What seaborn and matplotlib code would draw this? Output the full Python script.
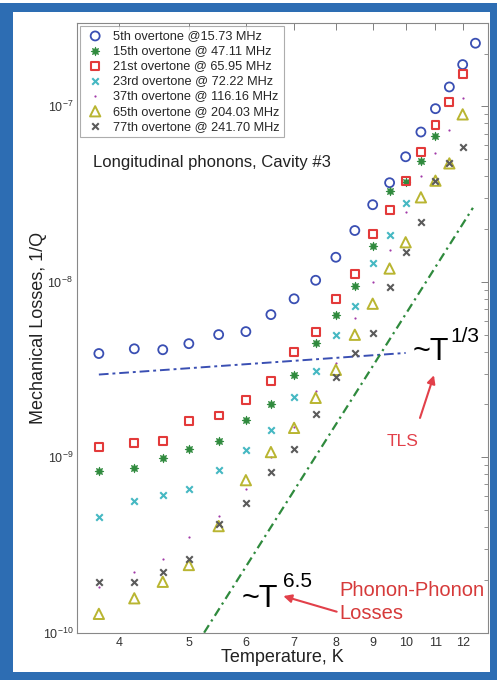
import matplotlib

matplotlib.use("Agg")
import matplotlib.pyplot as plt
from matplotlib.patches import Rectangle
from matplotlib.ticker import FixedLocator, LogFormatterSciNotation, NullLocator, NullFormatter
import pandas as pd
import seaborn as sns

sns.set_theme(style="white")
plt.rcParams["font.family"] = ["Liberation Sans", "DejaVu Sans"]
plt.rcParams["mathtext.fontset"] = "custom"
plt.rcParams["mathtext.rm"] = "Liberation Sans"

# measured temperatures (K)
temps = [3.75, 4.2, 4.6, 5.0, 5.5, 6.0, 6.5, 7.0, 7.5, 8.0, 8.5, 9.0, 9.5,
         10.0, 10.5, 11.0, 11.5, 12.0, 12.5]

# 1/Q for each overtone (series start at the lowest temperature)
q_5th = [3.9e-9, 4.15e-9, 4.1e-9, 4.44e-9, 5.0e-9, 5.2e-9, 6.5e-9, 8.0e-9,
         1.02e-8, 1.38e-8, 1.96e-8, 2.75e-8, 3.67e-8, 5.16e-8, 7.14e-8,
         9.7e-8, 1.29e-7, 1.73e-7, 2.29e-7]
q_15th = [8.36e-10, 8.7e-10, 9.87e-10, 1.12e-9, 1.23e-9, 1.62e-9, 2.02e-9,
          2.96e-9, 4.5e-9, 6.49e-9, 9.5e-9, 1.6e-8, 3.3e-8, 3.72e-8, 4.9e-8,
          6.8e-8]
q_21st = [1.14e-9, 1.21e-9, 1.24e-9, 1.60e-9, 1.73e-9, 2.11e-9, 2.71e-9,
          4.0e-9, 5.2e-9, 8.0e-9, 1.11e-8, 1.88e-8, 2.57e-8, 3.74e-8, 5.5e-8,
          7.8e-8, 1.06e-7, 1.53e-7]
q_23rd = [4.54e-10, 5.6e-10, 6.08e-10, 6.58e-10, 8.47e-10, 1.10e-9, 1.43e-9,
          2.2e-9, 3.1e-9, 5.0e-9, 7.3e-9, 1.28e-8, 1.85e-8, 2.82e-8]
q_37th = [1.81e-10, 2.22e-10, 2.62e-10, 3.52e-10, 4.63e-10, 6.55e-10, 1.0e-9,
          1.48e-9, 2.38e-9, 3.46e-9, 6.2e-9, 1.0e-8, 1.52e-8, 2.51e-8,
          4.03e-8, 5.4e-8, 7.3e-8, 1.12e-7]
q_65th = [1.28e-10, 1.57e-10, 1.95e-10, 2.43e-10, 4.05e-10, 7.4e-10, 1.07e-9,
          1.47e-9, 2.18e-9, 3.15e-9, 4.99e-9, 7.5e-9, 1.19e-8, 1.68e-8,
          3.03e-8, 3.77e-8, 4.73e-8, 9.0e-8]
q_77th = [1.94e-10, 1.94e-10, 2.21e-10, 2.63e-10, 4.14e-10, 5.45e-10, 8.25e-10,
          1.12e-9, 1.77e-9, 2.86e-9, 3.94e-9, 5.1e-9, 9.4e-9, 1.47e-8, 2.2e-8,
          3.77e-8, 4.73e-8, 5.9e-8]

labels = ["5th overtone @15.73 MHz", "15th overtone @ 47.11 MHz",
          "21st overtone @ 65.95 MHz", "23rd overtone @ 72.22 MHz",
          "37th overtone @ 116.16 MHz", "65th overtone @ 204.03 MHz",
          "77th overtone @ 241.70 MHz"]

# guide lines (end points of the power-law fits)
tls_T = [3.75, 10.0]
tls_Q = [2.96e-9, 3.93e-9]
pp_T = [5.25, 12.4]
pp_Q = [1.0e-10, 2.64e-8]

x_ticks = [4, 5, 6, 7, 8, 9, 10, 11, 12]
y_ticks = [1e-10, 1e-9, 1e-8, 1e-7]
y_minor = [k * d for d in (1e-10, 1e-9, 1e-8) for k in range(2, 10)] + [2e-7]

# marker styles: (marker, size, face, edge, linewidth)
STYLES = [
    ("o", 42, "none", "#3a4fb3", 1.3),
    ((8, 1, 0), 38, "#2f8a3d", "#2f8a3d", 0.6),
    ("s", 32, "none", "#e33a3a", 1.5),
    ("x", 22, None, "#45b8c2", 1.5),
    (".", 10, None, "#a23aa8", 0.0),
    ("^", 55, "none", "#b9b531", 1.4),
    ("x", 22, None, "#5a5a5a", 1.5),
]

series = [q_5th, q_15th, q_21st, q_23rd, q_37th, q_65th, q_77th]

fig = plt.figure(figsize=(4.97, 6.80), dpi=100)

# blue frame around the panel
fig.patches.append(Rectangle((0, 0), 1, 677 / 680, transform=fig.transFigure,
                             facecolor="#2d6db3", edgecolor="none", zorder=-10))
fig.patches.append(Rectangle((13 / 497, 8 / 680), 477 / 497, 660 / 680,
                             transform=fig.transFigure, facecolor="white",
                             edgecolor="none", zorder=-9))

ax = fig.add_axes([0.1555, 0.0696, 0.8258, 0.8971])
ax.set_facecolor("white")

for vals, lab, (mk, s, fc, ec, lw) in zip(series, labels, STYLES):
    df = pd.DataFrame({"T": temps[:len(vals)], "Q": vals})
    if fc is None:
        sns.scatterplot(data=df, x="T", y="Q", marker=mk, s=s, color=ec,
                        linewidth=lw, label=lab, ax=ax, legend=False, zorder=3)
    else:
        sns.scatterplot(data=df, x="T", y="Q", marker=mk, s=s, facecolor=fc,
                        edgecolor=ec, linewidth=lw, label=lab, ax=ax,
                        legend=False, zorder=3)

sns.lineplot(x=tls_T, y=tls_Q, color="#3a4fb3", lw=1.4,
             linestyle=(0, (5, 2, 1.5, 2)), ax=ax, legend=False, zorder=2)
sns.lineplot(x=pp_T, y=pp_Q, color="#2f8a3d", lw=1.6,
             linestyle=(0, (4, 2, 1, 2)), ax=ax, legend=False, zorder=2)

ax.set_xscale("log")
ax.set_yscale("log")
ax.set_xlim(3.5, 13)
ax.set_ylim(1e-10, 3e-7)
ax.set_xticks(x_ticks)
ax.set_xticklabels([str(t) for t in x_ticks])
ax.xaxis.set_minor_locator(NullLocator())
ax.yaxis.set_major_locator(FixedLocator(y_ticks))
ax.yaxis.set_major_formatter(LogFormatterSciNotation())
ax.yaxis.set_minor_locator(FixedLocator(y_minor))
ax.yaxis.set_minor_formatter(NullFormatter())

ax.tick_params(which="both", direction="in", top=True, right=True,
               color="#808080", labelsize=9, labelcolor="#333333", pad=3)
ax.tick_params(which="major", length=5, width=0.7)
ax.tick_params(which="minor", length=3, width=0.6)
for sp in ax.spines.values():
    sp.set_color("#888888")
    sp.set_linewidth(0.8)

ax.set_xlabel("Temperature, K", fontsize=13, color="#222222", labelpad=0)
ax.set_ylabel("Mechanical Losses, 1/Q", fontsize=13, color="#222222")
ax.yaxis.set_label_coords(-0.074, 0.5)

leg = ax.legend(loc="upper left", fontsize=9.2, frameon=True, fancybox=False,
                borderaxespad=0.25, labelspacing=0.24, handletextpad=0.6,
                borderpad=0.35, handlelength=1.6, edgecolor="#999999")
leg.get_frame().set_linewidth(0.8)

ax.text(0.038, 0.770, "Longitudinal phonons, Cavity #3", transform=ax.transAxes,
        fontsize=12, color="#222222", va="center", ha="left")

# TLS annotation
ax.text(0.818, 0.447, "~T", transform=ax.transAxes, fontsize=22,
        color="black", va="baseline", ha="left")
ax.text(0.910, 0.476, "1/3", transform=ax.transAxes, fontsize=15,
        color="black", va="baseline", ha="left")
ax.text(0.792, 0.313, "TLS", transform=ax.transAxes, fontsize=12.5,
        color="#e2404a", va="center", ha="center")
ax.annotate("", xy=(0.869, 0.422), xytext=(0.835, 0.352),
            xycoords="axes fraction", textcoords="axes fraction",
            arrowprops=dict(arrowstyle="-|>", color="#e2404a", lw=1.5,
                            mutation_scale=12, shrinkA=0, shrinkB=0))

# phonon-phonon annotation
ax.text(0.401, 0.0426, "~T", transform=ax.transAxes, fontsize=22,
        color="black", va="baseline", ha="left")
ax.text(0.5005, 0.075, "6.5", transform=ax.transAxes, fontsize=15,
        color="black", va="baseline", ha="left")
ax.text(0.638, 0.0503, "Phonon-Phonon\nLosses", transform=ax.transAxes,
        fontsize=14.5, color="#d63a3a", va="center", ha="left",
        linespacing=1.25)
ax.annotate("", xy=(0.502, 0.060), xytext=(0.632, 0.0344),
            xycoords="axes fraction", textcoords="axes fraction",
            arrowprops=dict(arrowstyle="-|>", color="#e2404a", lw=1.5,
                            mutation_scale=12, shrinkA=0, shrinkB=0))

fig.savefig("out.png", dpi=100)
